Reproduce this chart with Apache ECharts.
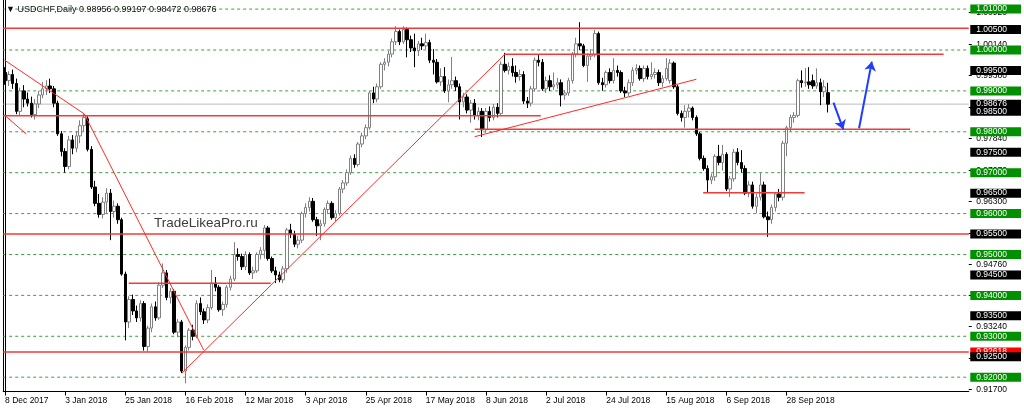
<!DOCTYPE html>
<html><head><meta charset="utf-8">
<script src="https://cdn.jsdelivr.net/npm/echarts@6/dist/echarts.min.js"></script>
<style>html,body{margin:0;padding:0;background:#fff}#c{width:1024px;height:413px}</style>
</head><body><div id="c"></div>
<script>
// Daily candles USDCHF, rows: [open, high, low, close]
const ohlc = [
[.9945,.9958,.9915,.9925],[.9925,.9948,.9912,.9940],[.9940,.9952,.9905,.9918],[.9918,.9930,.9843,.9850],
[.9850,.9908,.9840,.9900],[.9900,.9914,.9860,.9880],[.9880,.9896,.9862,.9870],[.9870,.9886,.9835,.9842],
[.9842,.9880,.9830,.9868],[.9868,.9900,.9858,.9890],[.9890,.9922,.9882,.9905],[.9905,.9926,.9890,.9912],
[.9912,.9930,.9895,.9905],[.9905,.9912,.9860,.9870],[.9870,.9876,.9790,.9795],[.9795,.9802,.9740,.9752],
[.9752,.9760,.9700,.9715],[.9715,.9790,.9708,.9780],[.9780,.9792,.9745,.9760],[.9760,.9802,.9750,.9790],
[.9790,.9828,.9772,.9815],[.9815,.9844,.9800,.9835],[.9832,.9838,.9752,.9757],[.9757,.9765,.9660,.9665],
[.9665,.9680,.9618,.9625],[.9625,.9648,.9590,.9598],[.9598,.9640,.9588,.9628],[.9628,.9662,.9600,.9650],
[.9650,.9660,.9535,.9605],[.9605,.9632,.9590,.9618],[.9618,.9625,.9575,.9585],[.9585,.9590,.9448,.9452],
[.9452,.9458,.9290,.9335],[.9335,.9398,.9320,.9390],[.9390,.9402,.9352,.9362],[.9362,.9375,.9335,.9345],
[.9345,.9388,.9336,.9380],[.9380,.9386,.9265,.9275],[.9275,.9326,.9262,.9320],[.9320,.9380,.9310,.9372],
[.9372,.9385,.9338,.9345],[.9345,.9432,.9340,.9425],[.9425,.9478,.9418,.9455],[.9455,.9462,.9388,.9395],
[.9395,.9418,.9380,.9410],[.9410,.9415,.9305,.9310],[.9310,.9342,.9298,.9335],[.9335,.9340,.9210,.9215],
[.9215,.9278,.9185,.9273],[.9273,.9320,.9265,.9315],[.9315,.9328,.9290,.9300],[.9300,.9388,.9295,.9380],
[.9380,.9395,.9352,.9360],[.9360,.9368,.9330,.9340],[.9340,.9378,.9332,.9370],[.9370,.9462,.9365,.9430],
[.9430,.9445,.9410,.9420],[.9420,.9425,.9360,.9365],[.9365,.9385,.9350,.9378],[.9378,.9425,.9370,.9420],
[.9420,.9448,.9412,.9440],[.9440,.9530,.9435,.9500],[.9500,.9515,.9485,.9495],[.9495,.9502,.9462,.9470],
[.9470,.9508,.9462,.9500],[.9500,.9505,.9450,.9455],[.9455,.9470,.9440,.9460],[.9460,.9505,.9455,.9500],
[.9500,.9518,.9488,.9510],[.9510,.9572,.9490,.9565],[.9565,.9570,.9485,.9490],[.9490,.9495,.9455,.9460],
[.9460,.9470,.9430,.9450],[.9450,.9458,.9432,.9438],[.9438,.9472,.9430,.9465],[.9465,.9565,.9455,.9560],
[.9560,.9575,.9540,.9550],[.9550,.9558,.9518,.9525],[.9525,.9545,.9515,.9535],[.9535,.9605,.9528,.9600],
[.9600,.9625,.9590,.9615],[.9615,.9640,.9605,.9630],[.9630,.9638,.9580,.9585],[.9585,.9592,.9545,.9570],
[.9570,.9585,.9535,.9575],[.9575,.9615,.9568,.9610],[.9610,.9632,.9600,.9625],[.9625,.9630,.9585,.9590],
[.9590,.9608,.9580,.9600],[.9600,.9665,.9595,.9660],[.9660,.9682,.9650,.9675],[.9675,.9708,.9668,.9700],
[.9700,.9742,.9695,.9735],[.9735,.9745,.9712,.9720],[.9720,.9775,.9715,.9770],[.9770,.9798,.9762,.9790],
[.9790,.9818,.9782,.9810],[.9810,.9900,.9805,.9895],[.9895,.9910,.9870,.9880],[.9880,.9918,.9872,.9910],
[.9910,.9970,.9905,.9965],[.9965,.9980,.9950,.9970],[.9970,.9998,.9960,.9990],[.9990,1.0028,.9982,1.0020],
[1.0020,1.0058,1.0012,1.0045],[1.0045,1.0050,1.0012,1.0020],[1.0020,1.0058,1.0015,1.0050],[1.0050,1.0055,.9982,1.0025],
[1.0025,1.0035,.9995,1.0005],[1.0005,1.0040,.9958,.9998],[.9998,1.0022,.9985,1.0015],[1.0015,1.0030,1.0000,1.0010],
[1.0010,1.0040,1.0002,1.0018],[1.0018,1.0025,.9968,.9975],[.9975,1.0002,.9940,.9970],[.9970,.9978,.9918,.9922],
[.9922,.9955,.9912,.9935],[.9935,.9958,.9895,.9900],[.9900,.9928,.9872,.9915],[.9915,.9983,.9905,.9925],
[.9925,.9935,.9900,.9910],[.9910,.9918,.9830,.9873],[.9873,.9895,.9860,.9885],[.9885,.9892,.9845,.9853],
[.9853,.9878,.9822,.9870],[.9870,.9880,.9830,.9840],[.9840,.9860,.9828,.9850],[.9850,.9858,.9787,.9805],
[.9805,.9858,.9798,.9850],[.9850,.9862,.9825,.9835],[.9835,.9868,.9828,.9860],[.9860,.9870,.9835,.9845],
[.9845,.9972,.9840,.9965],[.9965,.9993,.9945,.9950],[.9950,.9970,.9940,.9960],[.9960,.9980,.9935,.9945],
[.9945,.9962,.9920,.9935],[.9935,.9952,.9925,.9940],[.9940,.9948,.9868,.9875],[.9875,.9885,.9858,.9870],
[.9870,.9912,.9862,.9905],[.9905,.9982,.9898,.9975],[.9975,.9988,.9960,.9970],[.9970,.9978,.9900,.9905],
[.9905,.9935,.9895,.9925],[.9925,.9938,.9900,.9910],[.9910,.9945,.9902,.9915],[.9915,.9932,.9905,.9920],
[.9920,.9928,.9862,.9890],[.9890,.9902,.9878,.9895],[.9895,.9932,.9888,.9925],[.9925,.9995,.9918,.9990],
[.9990,1.0030,.9982,1.0015],[1.0015,1.0068,1.0000,1.0010],[1.0010,1.0015,.9958,.9962],[.9962,.9992,.9922,.9985],
[.9985,1.0002,.9975,.9988],[.9988,1.0049,.9982,1.0040],[1.0040,1.0045,.9915,.9920],[.9920,.9932,.9900,.9915],
[.9915,.9950,.9908,.9945],[.9945,.9955,.9918,.9925],[.9925,.9980,.9918,.9950],[.9950,.9962,.9935,.9945],
[.9945,.9950,.9895,.9900],[.9900,.9910,.9885,.9895],[.9895,.9928,.9888,.9920],[.9920,.9958,.9912,.9950],
[.9950,.9965,.9940,.9955],[.9955,.9962,.9925,.9930],[.9930,.9962,.9922,.9955],[.9955,.9962,.9928,.9935],
[.9935,.9970,.9928,.9940],[.9940,.9955,.9930,.9945],[.9945,.9952,.9912,.9920],[.9920,.9938,.9910,.9930],
[.9930,.9980,.9925,.9955],[.9925,.9978,.9918,.9968],[.9968,.9972,.9905,.9910],[.9910,.9915,.9840,.9845],
[.9845,.9852,.9825,.9835],[.9835,.9865,.9810,.9850],[.9850,.9868,.9835,.9858],[.9858,.9862,.9828,.9835],
[.9835,.9840,.9790,.9795],[.9795,.9800,.9730,.9735],[.9735,.9742,.9705,.9710],[.9710,.9718,.9653,.9682],
[.9682,.9698,.9672,.9690],[.9690,.9745,.9680,.9740],[.9740,.9768,.9718,.9725],[.9725,.9768,.9705,.9745],
[.9745,.9750,.9655,.9660],[.9660,.9692,.9640,.9685],[.9685,.9758,.9678,.9750],[.9750,.9760,.9718,.9725],
[.9725,.9755,.9700,.9710],[.9710,.9718,.9645,.9650],[.9650,.9680,.9640,.9670],[.9670,.9678,.9612,.9618],
[.9618,.9648,.9601,.9640],[.9640,.9699,.9632,.9670],[.9670,.9678,.9588,.9592],[.9592,.9605,.9543,.9585],
[.9585,.9622,.9575,.9615],[.9615,.9652,.9605,.9648],[.9648,.9660,.9630,.9640],[.9640,.9778,.9632,.9772],
[.9772,.9815,.9740,.9810],[.9810,.9842,.9800,.9835],[.9835,.9848,.9822,.9840],[.9840,.9930,.9835,.9925],
[.9925,.9950,.9908,.9920],[.9920,.9956,.9910,.9922],[.9922,.9958,.9905,.9915],[.9925,.9940,.9905,.9912],
[.9912,.9955,.9905,.9920],[.9920,.9930,.9865,.9898],[.9898,.9926,.9885,.9910],[.98956,.99197,.98472,.98676]
];
const slotCount = 257;              // bar slots on the time axis incl. empty right margin
const tickIndex = [0,16,32,48,64,80,96,112,128,144,160,176,192,208];
const tickLabels = ['8 Dec 2017','3 Jan 2018','25 Jan 2018','16 Feb 2018','12 Mar 2018','3 Apr 2018',
  '25 Apr 2018','17 May 2018','8 Jun 2018','2 Jul 2018','24 Jul 2018','15 Aug 2018','6 Sep 2018','28 Sep 2018'];
const greenLevels = [1.01,1.00,0.99,0.98,0.97,0.96,0.95,0.94,0.93,0.92];
const blackLevels = [1.005,0.995,0.985,0.975,0.965,0.955,0.945,0.935,0.925];
const scaleLabels = [1.0092,1.0014,0.9938,0.9861,0.9784,0.9707,0.9630,0.9553,0.9476,0.9400,0.9324,0.9247,0.9170];
const bidPrice = 0.98676;
const redLabelPrice = 0.92618;
const yMin = 0.9165, yMax = 1.01222;
// horizontal red levels: [fromBar, toBar, price]
const redLevels = [[-0.5,256.5,1.0053],[-0.5,142.6,0.9839],[-0.5,256.5,0.955],[32.9,70.7,0.94296],
  [-0.5,256.5,0.92618],[132.9,249.8,0.99895],[125,240.9,0.9806],[185.8,212.8,0.96511]];
// red trend lines: [fromBar, fromPrice, toBar, toPrice]
const trendLines = [[-0.2,0.99756,21.1,0.98435],[21.1,0.98435,52.85,0.92665],[-0.2,0.98411,5.64,0.97946],
  [47.1,0.92103,133.1,0.99902],[125,0.9788,184,0.99284]];
// blue arrows: [fromBar, fromPrice, toBar, toPrice]
const arrows = [[220.5,0.98712,223.1,0.98061],[227.3,0.98086,230.7,0.99714]];

const FONT = "'Liberation Sans', Arial, sans-serif";
const cats = [];
for (let i = 0; i < slotCount; i++) cats.push(String(i));
const candleData = ohlc.map(r => [r[0], r[3], r[2], r[1]]);
const isIn = (arr, v) => arr.some(a => Math.abs(a - v) < 1e-7);

const series = [];
series.push({
  type: 'candlestick', xAxisIndex: 0, yAxisIndex: 0, data: candleData, barWidth: 3, z: 3,
  itemStyle: {color: '#ffffff', color0: '#000000', borderColor: '#808080', borderColor0: '#000000', borderWidth: 1}
});
greenLevels.forEach(p => series.push({type:'line', xAxisIndex:1, yAxisIndex:0, symbol:'none', silent:true, z:2,
  data:[[-0.5,p],[256.5,p]], lineStyle:{color:'#3f9f3f', width:1, type:[3,3]}}));
series.push({type:'line', xAxisIndex:1, yAxisIndex:0, symbol:'none', z:2,
  data:[[-0.5,bidPrice],[256.5,bidPrice]], lineStyle:{color:'#bdbdbd', width:1}});
redLevels.forEach(s => series.push({type:'line', xAxisIndex:1, yAxisIndex:0, symbol:'none', z:4,
  data:[[s[0],s[2]],[s[1],s[2]]], lineStyle:{color:'#f23a3a', width:1.5}}));
trendLines.forEach(s => series.push({type:'line', xAxisIndex:1, yAxisIndex:0, symbol:'none', z:4,
  data:[[s[0],s[1]],[s[2],s[3]]], lineStyle:{color:'#ff2a2a', width:1}}));
series.push({type:'line', xAxisIndex:1, yAxisIndex:0, data:[], z:5,
  markLine:{silent:true, symbol:['none','arrow'], symbolSize:9, label:{show:false},
    lineStyle:{color:'#1f3cff', width:2, type:'solid'},
    data: arrows.map(a => [{coord:[a[0],a[1]]},{coord:[a[2],a[3]]}])}});

const boxStyle = (bg) => ({backgroundColor:bg, color:'#fff', fontSize:8.5, fontFamily:FONT, lineHeight:10, padding:[0,14,0,6]});
const option = {
  animation: false,
  backgroundColor: '#ffffff',
  grid: {left: 3.2, right: 41.5, top: 0, bottom: 21.5, containLabel: false},
  xAxis: [{
    type: 'category', data: cats, boundaryGap: true,
    axisLine: {show: true, lineStyle: {color: '#000', width: 1}},
    axisTick: {show: true, alignWithLabel: true, length: 4, lineStyle:{color:'#000'},
      interval: (i) => tickIndex.indexOf(i) >= 0},
    axisLabel: {show: true, interval: (i) => tickIndex.indexOf(i) >= 0, align: 'left', margin: 5,
      fontSize: 8.5, fontFamily: FONT, color: '#000',
      formatter: (v, i) => { const k = tickIndex.indexOf(Number(v)); return k >= 0 ? tickLabels[k] : ''; }},
    splitLine: {show: false}
  }, {
    type: 'value', min: -0.5, max: 256.5, show: false
  }],
  yAxis: [{
    type: 'value', position: 'right', min: yMin, max: yMax, z: 3,
    axisLine: {show: true, lineStyle: {color: '#000', width: 1}},
    axisTick: {show: false}, splitLine: {show: false},
    axisLabel: {show: true, margin: 1.5, customValues: greenLevels.concat(blackLevels),
      formatter: v => (isIn(greenLevels, v) ? '{g|' : '{k|') + v.toFixed(5) + '}',
      rich: {g: boxStyle('#009000'), k: boxStyle('#000000')}}
  }, {
    type: 'value', position: 'right', min: yMin, max: yMax, z: 2,
    axisLine: {show: false}, splitLine: {show: false},
    axisTick: {show: true, length: 3, customValues: scaleLabels, lineStyle:{color:'#000'}},
    axisLabel: {show: true, margin: 1.5, customValues: scaleLabels.concat([bidPrice, redLabelPrice]),
      formatter: v => Math.abs(v - bidPrice) < 1e-7 ? '{k|' + v.toFixed(5) + '}' :
        Math.abs(v - redLabelPrice) < 1e-7 ? '{r|' + v.toFixed(5) + '}' : '{p|' + v.toFixed(5) + '}',
      rich: {
        p: {color:'#000', fontSize:8.5, fontFamily:FONT, lineHeight:10, padding:[1,4,0,6]},
        k: boxStyle('#000000'),
        r: boxStyle('#ff0000')
      }}
  }, {
    type: 'value', position: 'left', min: yMin, max: yMax,
    axisLine: {show: true, onZero: false, lineStyle: {color: '#000', width: 1}},
    axisTick: {show: false}, axisLabel: {show: false}, splitLine: {show: false}
  }],
  graphic: [
    {type:'text', left: 6, top: 5, z: 10, style:{text:'\u25BC USDCHF,Daily 0.98956 0.99197 0.98472 0.98676', font:'9px ' + FONT, fill:'#111'}},
    {type:'text', left: 154, top: 216, z: 1, style:{text:'TradeLikeaPro.ru', font:'13.5px ' + FONT, fill:'#3c3c3c'}}
  ],
  series: series
};
const chart = echarts.init(document.getElementById('c'));
chart.setOption(option);
</script></body></html>
